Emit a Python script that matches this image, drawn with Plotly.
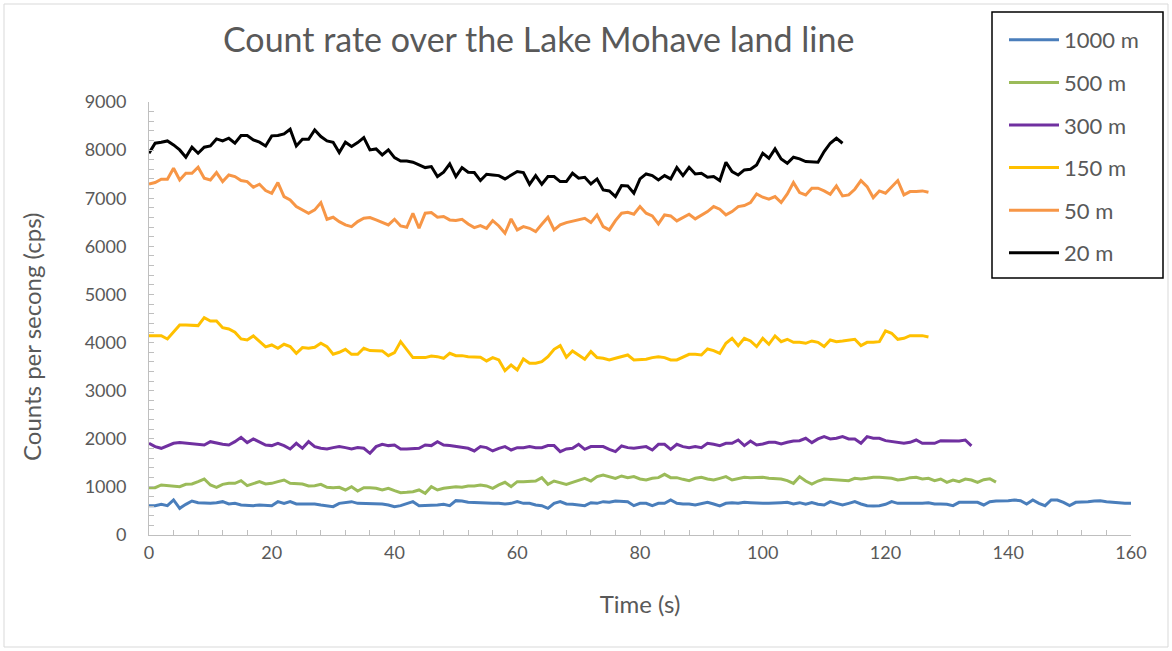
import plotly.graph_objects as go

# Count rate (cps) sampled once per second for each flight altitude
cps_1000m = [610, 610, 638, 610, 728, 554, 638, 707, 672, 658, 658, 672, 693, 645, 658, 624, 610, 610, 624, 624,
             610, 693, 658, 693, 645, 645, 645, 645, 624, 610, 589, 658, 679, 693, 658, 658, 658, 645, 645, 624,
             589, 610, 658, 693, 610, 610, 610, 624, 638, 610, 714, 707, 679, 672, 658, 658, 658, 658, 645, 658,
             693, 658, 658, 624, 610, 554, 658, 693, 645, 638, 624, 610, 672, 658, 693, 679, 707, 707, 693, 610,
             658, 658, 610, 658, 658, 728, 658, 645, 645, 624, 658, 679, 645, 603, 658, 672, 658, 679, 672, 658,
             658, 658, 658, 672, 679, 645, 672, 638, 672, 638, 624, 693, 658, 624, 658, 693, 645, 610, 603, 610,
             638, 693, 658, 658, 658, 645, 658, 672, 645, 645, 638, 610, 679, 679, 679, 679, 624, 693, 707, 707,
             714, 728, 714, 645, 728, 658, 610, 728, 728, 679, 610, 679, 679, 693, 707, 714, 693, 679, 672, 658,
             658]

cps_500m = [984, 984, 1040, 1026, 1005, 1005, 1053, 1060, 1109, 1164, 1040, 991, 1053, 1074, 1074, 1130, 1026,
            1074, 1109, 1060, 1074, 1109, 1143, 1074, 1060, 1060, 1019, 1026, 1053, 991, 984, 991, 936, 1005, 915,
            984, 984, 970, 936, 970, 922, 880, 887, 901, 936, 867, 1005, 936, 970, 984, 1005, 991, 1019, 1019,
            1040, 1019, 970, 1040, 1095, 1005, 1109, 1109, 1109, 1122, 1192, 1053, 1122, 1095, 1053, 1095, 1143,
            1178, 1122, 1213, 1247, 1213, 1178, 1227, 1192, 1213, 1164, 1143, 1178, 1192, 1261, 1192, 1192, 1157,
            1130, 1178, 1199, 1164, 1143, 1178, 1213, 1143, 1178, 1199, 1192, 1199, 1199, 1178, 1164, 1164, 1130,
            1074, 1213, 1122, 1060, 1122, 1164, 1157, 1157, 1143, 1130, 1178, 1164, 1178, 1199, 1199, 1192, 1178,
            1143, 1157, 1192, 1199, 1164, 1178, 1130, 1164, 1095, 1143, 1109, 1164, 1143, 1095, 1150, 1170, 1100]

cps_300m = [1906, 1837, 1802, 1858, 1906, 1920, 1906, 1885, 1871, 1871, 1940, 1906, 1885, 1871, 1940, 2031, 1920,
            1996, 1940, 1871, 1858, 1906, 1858, 1788, 1906, 1802, 1940, 1837, 1802, 1788, 1816, 1837, 1816, 1788,
            1816, 1802, 1698, 1837, 1885, 1858, 1871, 1788, 1788, 1788, 1802, 1871, 1858, 1940, 1871, 1858, 1837,
            1816, 1802, 1747, 1837, 1816, 1747, 1802, 1837, 1767, 1816, 1816, 1837, 1816, 1816, 1858, 1858, 1733,
            1788, 1802, 1885, 1781, 1837, 1837, 1837, 1781, 1733, 1851, 1816, 1802, 1816, 1837, 1767, 1885, 1885,
            1781, 1885, 1837, 1816, 1837, 1816, 1906, 1885, 1858, 1906, 1906, 1975, 1858, 1954, 1871, 1892, 1927,
            1927, 1892, 1927, 1954, 1961, 2010, 1920, 1996, 2044, 1996, 2010, 2044, 1996, 1996, 1906, 2044, 2010,
            2010, 1961, 1940, 1927, 1906, 1927, 1975, 1906, 1906, 1906, 1961, 1961, 1961, 1954, 1975, 1851]

cps_150m = [4144, 4144, 4144, 4075, 4227, 4366, 4366, 4352, 4352, 4518, 4449, 4449, 4310, 4283, 4214, 4075, 4054,
            4137, 4033, 3909, 3950, 3881, 3964, 3916, 3777, 3895, 3881, 3902, 3985, 3916, 3756, 3798, 3860, 3756,
            3756, 3881, 3833, 3826, 3826, 3728, 3791, 4019, 3847, 3687, 3687, 3687, 3721, 3707, 3673, 3777, 3728,
            3728, 3707, 3707, 3694, 3618, 3687, 3638, 3416, 3534, 3430, 3659, 3569, 3569, 3604, 3707, 3860, 3936,
            3694, 3826, 3742, 3652, 3812, 3687, 3673, 3638, 3673, 3707, 3742, 3638, 3638, 3652, 3687, 3707, 3687,
            3638, 3638, 3694, 3756, 3756, 3742, 3867, 3833, 3777, 3985, 4089, 3936, 4089, 4033, 3916, 4089, 3964,
            4137, 4019, 4068, 4005, 4005, 3985, 4033, 4005, 3916, 4054, 4019, 4033, 4054, 4068, 3936, 4005, 4005,
            4019, 4241, 4193, 4068, 4089, 4144, 4137, 4144, 4116]

cps_50m = [7297, 7325, 7394, 7394, 7623, 7380, 7519, 7519, 7644, 7415, 7380, 7533, 7346, 7484, 7450, 7367, 7346,
           7228, 7290, 7159, 7103, 7325, 7034, 6965, 6826, 6757, 6688, 6757, 6909, 6563, 6605, 6514, 6445, 6410,
           6514, 6584, 6598, 6549, 6494, 6445, 6563, 6424, 6396, 6688, 6375, 6688, 6702, 6605, 6619, 6549, 6535,
           6563, 6466, 6389, 6431, 6375, 6535, 6424, 6272, 6570, 6341, 6410, 6375, 6306, 6459, 6605, 6341, 6445,
           6494, 6528, 6549, 6584, 6494, 6653, 6410, 6341, 6535, 6688, 6709, 6667, 6827, 6688, 6632, 6466, 6653,
           6632, 6528, 6605, 6667, 6570, 6653, 6723, 6827, 6771, 6653, 6723, 6827, 6847, 6910, 7090, 7021, 6979,
           7034, 6910, 7090, 7325, 7118, 7069, 7208, 7208, 7152, 7083, 7256, 7048, 7069, 7187, 7367, 7242, 7013,
           7152, 7103, 7242, 7367, 7069, 7138, 7138, 7152, 7124]

cps_20m = [7935, 8143, 8164, 8191, 8108, 8004, 7852, 8060, 7935, 8060, 8087, 8233, 8191, 8247, 8143, 8303, 8303,
           8212, 8164, 8087, 8296, 8303, 8337, 8434, 8087, 8226, 8226, 8420, 8282, 8191, 8164, 7949, 8164, 8074,
           8157, 8261, 8004, 8025, 7900, 8004, 7845, 7775, 7775, 7748, 7692, 7637, 7658, 7450, 7540, 7713, 7450,
           7637, 7540, 7533, 7367, 7498, 7484, 7470, 7401, 7484, 7554, 7533, 7290, 7470, 7290, 7450, 7450, 7346,
           7346, 7519, 7415, 7436, 7297, 7401, 7173, 7152, 7034, 7263, 7256, 7103, 7401, 7505, 7470, 7380, 7470,
           7401, 7637, 7470, 7644, 7505, 7519, 7436, 7450, 7367, 7748, 7554, 7484, 7588, 7602, 7692, 7935, 7831,
           8025, 7817, 7727, 7852, 7817, 7762, 7762, 7748, 7970, 8143, 8247, 8143]

series_names = ["1000 m", "500 m", "300 m", "150 m", "50 m", "20 m"]
series_values = [cps_1000m, cps_500m, cps_300m, cps_150m, cps_50m, cps_20m]
series_colors = ["#4a7ebb", "#9bbb59", "#7030a0", "#ffc000", "#f79646", "#000000"]

x_ticks = [0, 20, 40, 60, 80, 100, 120, 140, 160]
y_ticks = [0, 1000, 2000, 3000, 4000, 5000, 6000, 7000, 8000, 9000]

FONT = "Lato"
TEXT = "#595959"
AXIS = "#bfbfbf"

W, H = 1172, 651
L, R, T, B = 149, 41, 102, 116
PW, PH = W - L - R, H - T - B


def px(xp):
    return (xp - L) / PW


def py(yp):
    return (H - B - yp) / PH


fig = go.Figure()
for name, vals, col in zip(series_names, series_values, series_colors):
    fig.add_trace(go.Scatter(
        x=list(range(len(vals))), y=vals, name=name, mode="lines",
        line=dict(color=col, width=3), legendgroup=name,
    ))

fig.update_layout(
    width=W, height=H,
    margin=dict(l=L, r=R, t=T, b=B, autoexpand=False),
    paper_bgcolor="white", plot_bgcolor="white",
    font=dict(family=FONT, color=TEXT),
    showlegend=True,
    legend=dict(
        x=px(1004), y=py(19), xanchor="left", yanchor="top",
        font=dict(family=FONT, size=22, color=TEXT),
        bgcolor="rgba(0,0,0,0)", borderwidth=0,
        tracegroupgap=11, itemwidth=50,
    ),
    xaxis=dict(
        range=[0, 160], tickvals=x_ticks, showgrid=False, zeroline=False,
        showline=True, linecolor=AXIS, linewidth=1,
        ticks="inside", ticklen=5, tickcolor=AXIS,
        minor=dict(dtick=4, ticks="inside", ticklen=5, tickcolor=AXIS, showgrid=False),
        tickfont=dict(family=FONT, size=18, color=TEXT),
        ticklabelstandoff=1,
        title=dict(text="Time (s)", font=dict(family=FONT, size=24, color=TEXT), standoff=34),
    ),
    yaxis=dict(
        range=[0, 9000], tickvals=y_ticks, showgrid=False, zeroline=False,
        showline=True, linecolor=AXIS, linewidth=1,
        ticks="inside", ticklen=5, tickcolor=AXIS,
        minor=dict(dtick=200, ticks="inside", ticklen=5, tickcolor=AXIS, showgrid=False),
        tickfont=dict(family=FONT, size=18, color=TEXT),
        ticklabelstandoff=18,
    ),
    shapes=[
        # outer chart frame
        dict(type="rect", xref="paper", yref="paper", x0=px(4), x1=px(1168), y0=py(647), y1=py(4),
             line=dict(color="#d9d9d9", width=1), layer="below"),
        # legend frame
        dict(type="rect", xref="paper", yref="paper", x0=px(992), x1=px(1163), y0=py(278), y1=py(12),
             line=dict(color="#000000", width=1.5), fillcolor="white", layer="below"),
    ],
    annotations=[
        dict(text="Count rate over the Lake Mohave land line", xref="paper", yref="paper",
             x=px(538), y=py(38), xanchor="center", yanchor="middle", showarrow=False,
             font=dict(family=FONT, size=34, color=TEXT)),
        dict(text="Counts per secong (cps)", xref="paper", yref="paper",
             x=px(31), y=py(337), xanchor="center", yanchor="middle", showarrow=False,
             textangle=-90, font=dict(family=FONT, size=24, color=TEXT)),
    ],
)

fig.write_html("out.html")
